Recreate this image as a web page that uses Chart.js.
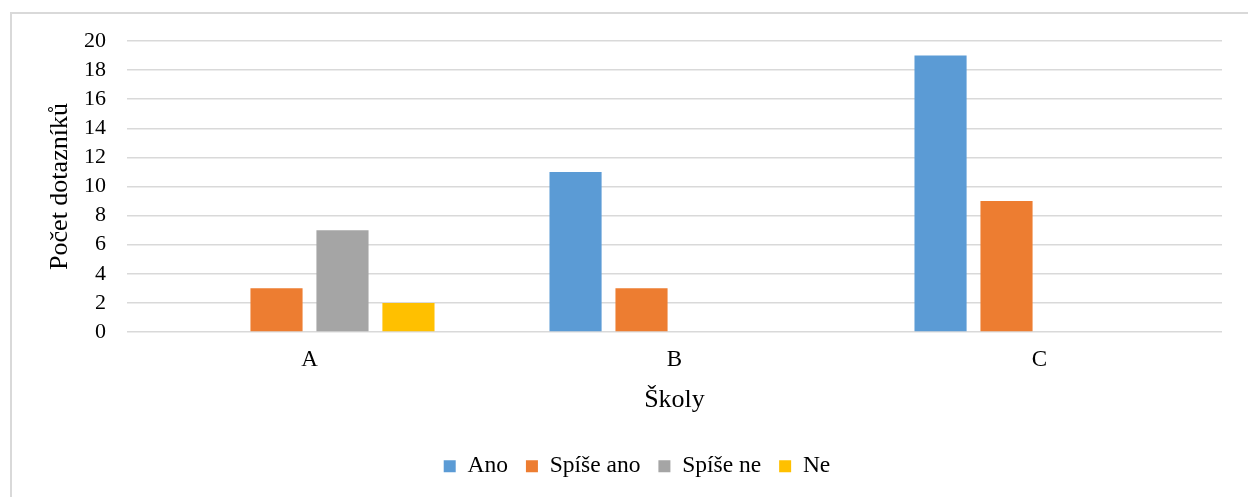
<!DOCTYPE html>
<html>
<head>
<meta charset="utf-8">
<script src="https://cdn.jsdelivr.net/npm/chart.js@4/dist/chart.umd.min.js"></script>
<style>
  html, body { margin: 0; padding: 0; background: #fff; }
  body { width: 1248px; height: 497px; position: relative; overflow: hidden; }
  #frame { position: absolute; left: 10px; top: 12px; width: 1300px; height: 600px; border: 2px solid #d9d9d9; box-sizing: border-box; }
  #wrap { position: absolute; left: 0; top: 0; width: 1248px; height: 497px; }
</style>
</head>
<body>
<div id="frame"></div>
<div id="wrap"><canvas id="c" width="1248" height="497"></canvas></div>
<script>
const categories = ['A', 'B', 'C'];
const seriesNames = ['Ano', 'Spíše ano', 'Spíše ne', 'Ne'];
const ano = [0, 11, 19];
const spiseAno = [3, 3, 9];
const spiseNe = [7, 0, 0];
const ne = [2, 0, 0];
const yTicks = [0, 2, 4, 6, 8, 10, 12, 14, 16, 18, 20];
const colors = ['#5B9BD5', '#ED7D31', '#A5A5A5', '#FFC000'];

const serif = "'Liberation Serif', 'Times New Roman', serif";
const values = [ano, spiseAno, spiseNe, ne];

const legendShift = {
  id: 'legendShift',
  afterLayout(chart) {
    if (chart.legend) { chart.legend.left += 21; chart.legend.right += 21; }
  }
};

new Chart(document.getElementById('c'), {
  type: 'bar',
  data: {
    labels: categories,
    datasets: seriesNames.map((n, i) => ({
      label: n,
      data: values[i],
      backgroundColor: colors[i],
      borderWidth: 0,
      categoryPercentage: 0.723,
      barPercentage: 0.79
    }))
  },
  plugins: [legendShift],
  options: {
    responsive: false,
    animation: false,
    devicePixelRatio: 1,
    layout: { padding: { left: 10, right: 26, top: 41, bottom: 9 } },
    plugins: {
      tooltip: { enabled: false },
      legend: {
        position: 'bottom',
        labels: {
          boxWidth: 12,
          boxHeight: 12,
          padding: 18,
          color: '#000',
          font: { family: serif, size: 23.5 }
        }
      }
    },
    scales: {
      x: {
        grid: { display: false, drawTicks: false },
        border: { display: false },
        ticks: { color: '#000', padding: 14, font: { family: serif, size: 23 } },
        title: { display: true, text: 'Školy', color: '#000', font: { family: serif, size: 26 }, padding: { top: 0, bottom: 21 } },
        afterFit: s => { s.height = 104.5; }
      },
      y: {
        min: 0,
        max: 20,
        afterBuildTicks: s => { s.ticks = yTicks.map(v => ({ value: v })); },
        grid: { color: '#d9d9d9', lineWidth: 1.5, drawTicks: false },
        border: { display: false },
        ticks: { color: '#000', padding: 21, autoSkip: false, font: { family: serif, size: 22 } },
        title: { display: true, text: 'Počet dotazníků', color: '#000', font: { family: serif, size: 26 }, padding: { top: 35, bottom: 0 } },
        afterFit: s => { s.width = 117; }
      }
    }
  }
});
</script>
</body>
</html>
